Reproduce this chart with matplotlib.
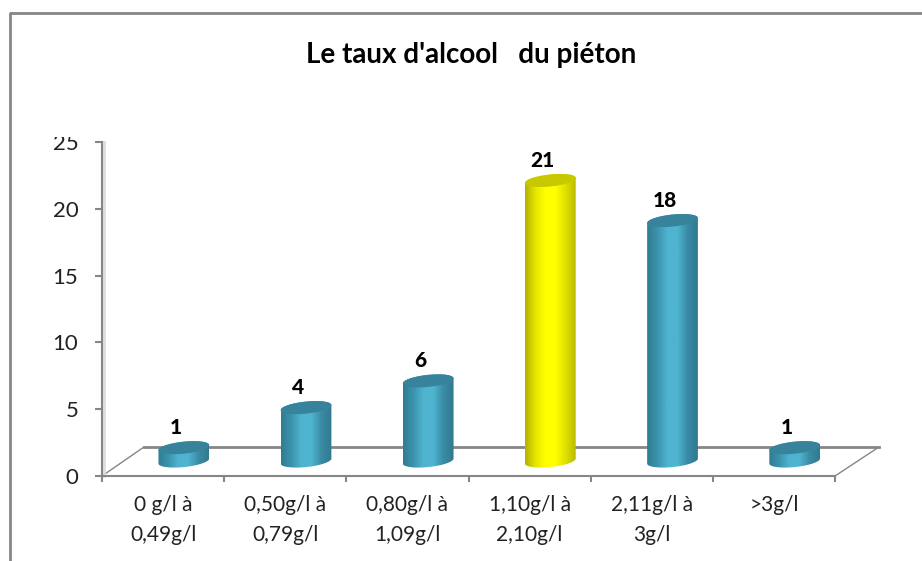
import matplotlib
matplotlib.use("Agg")
import matplotlib.pyplot as plt
from matplotlib.colors import LinearSegmentedColormap
from matplotlib.lines import Line2D
from matplotlib.patches import PathPatch, Polygon
from matplotlib.path import Path
from matplotlib.transforms import Bbox
import numpy as np

W, H = 922, 561

categories = ["0 g/l à\n0,49g/l", "0,50g/l à\n0,79g/l", "0,80g/l à\n1,09g/l",
              "1,10g/l à\n2,10g/l", "2,11g/l à\n3g/l", ">3g/l"]
values = [1, 4, 6, 21, 18, 1]
y_ticks = [0, 5, 10, 15, 20, 25]
title = "Le taux d'alcool   du piéton"

GREY = "#868686"
blue_cmap = LinearSegmentedColormap.from_list("blue", ["#2f7d93", "#3c93ad", "#4fb4d0", "#4fb4d0", "#3a8ba5", "#317a90"])
yellow_cmap = LinearSegmentedColormap.from_list("yellow", ["#b3b300", "#e6e600", "#ffff00", "#ffff00", "#e0e000", "#bcbc00"])
BLUE_TOP = "#37839b"
YELLOW_TOP = "#c8c800"

plt.rcParams["font.family"] = ["Lato", "DejaVu Sans"]

fig = plt.figure(figsize=(W / 100, H / 100), dpi=100, facecolor="white")
ax = fig.add_axes([102 / W, 1 - 476 / H, (835 - 102) / W, (476 - 142) / H])
ax.set_xlim(-0.5, 5.5)
ax.set_ylim(0, 25)

PX_X = 733 / 6   # px per category
PX_Y = 334 / 25  # px per value


def tilted_arc(cx, cy, t):
    # ellipse slightly tilted, as the 3D view of the excel chart
    a, b, th = 25.5, 6.0, np.radians(6)
    dx = a * np.cos(t) * np.cos(th) - b * np.sin(t) * np.sin(th)
    dy = a * np.cos(t) * np.sin(th) + b * np.sin(t) * np.cos(th)
    return np.column_stack([cx + dx / PX_X, cy + dy / PX_Y])


def draw_cylinder(x, v, cmap, top_color):
    cx = x + 0.17
    base = 1.12
    bottom = tilted_arc(cx, base, np.linspace(np.pi, 2 * np.pi, 40))
    top = tilted_arc(cx, base + v, np.linspace(0, np.pi, 40))
    pts = np.vstack([bottom, top, bottom[:1]])
    clip = PathPatch(Path(pts), fc="none", ec="none", transform=ax.transData)
    ax.add_patch(clip)
    grad = np.linspace(0, 1, 64).reshape(1, -1)
    im = ax.imshow(grad, cmap=cmap, aspect="auto", zorder=3,
                   extent=[pts[:, 0].min(), pts[:, 0].max(), base - 1, base + v + 1])
    im.set_clip_path(clip)
    lid = tilted_arc(cx, base + v, np.linspace(0, 2 * np.pi, 80))
    ax.add_patch(Polygon(lid, closed=True, fc=top_color, ec="none", zorder=4, clip_on=False))
    ax.text(cx - 8 / PX_X, base + v + 20 / PX_Y, str(v), ha="center", va="center",
            fontsize=15, fontweight="black", color="black", zorder=5)


# floor of the 3D chart
floor_back = 29 / PX_Y
floor_shift = 42 / PX_X
ax.plot([-0.5, -0.5 + floor_shift], [0, floor_back], color=GREY, lw=1, clip_on=False, zorder=1)
ax.plot([-0.5 + floor_shift, 5.5 + 44 / PX_X], [floor_back, floor_back], color=GREY, lw=2, clip_on=False, zorder=1)
ax.plot([5.5, 5.5 + 44 / PX_X], [0, floor_back], color=GREY, lw=1, clip_on=False, zorder=1)
ax.plot([-0.5 + 2 / PX_X] * 2, [0, 25], color="#dddddd", lw=2, clip_on=False, zorder=1)

for i, v in enumerate(values):
    if v == max(values):
        draw_cylinder(i, v, yellow_cmap, YELLOW_TOP)
    else:
        draw_cylinder(i, v, blue_cmap, BLUE_TOP)
ax.set_xlim(-0.5, 5.5)
ax.set_ylim(0, 25)

for s in ["top", "right"]:
    ax.spines[s].set_visible(False)
for s in ["left", "bottom"]:
    ax.spines[s].set_color(GREY)
    ax.spines[s].set_linewidth(1.5)

ax.set_xticks(np.arange(-0.5, 6, 1))
ax.set_xticklabels([])
ax.tick_params(axis="x", which="major", length=4, width=1.5, color=GREY)
ax.set_xticks(range(len(categories)), minor=True)
ax.set_xticklabels(categories, minor=True, fontsize=15, color="#222222", linespacing=1.6)
ax.tick_params(axis="x", which="minor", length=0, pad=14)

ax.set_yticks(y_ticks)
ax.set_yticklabels([str(t) for t in y_ticks], fontsize=16, color="#222222")
ax.tick_params(axis="y", length=5, width=1.5, color=GREY, pad=12)

# the top label is cut off in the original
top_lab = ax.get_yticklabels()[-1]
top_lab.set_clip_on(True)
top_lab.set_clip_box(Bbox([[0, 0], [W, H - 137]]))

fig.text(471 / W, 1 - 55 / H, title, ha="center", va="center", fontsize=20, fontweight="bold", color="black")

# outer frame, only top and left are visible
fig.add_artist(Line2D([10 / W, 10 / W, 1], [0, 1 - 13 / H, 1 - 13 / H], color=GREY, lw=2))

fig.savefig("out.png", dpi=100)
